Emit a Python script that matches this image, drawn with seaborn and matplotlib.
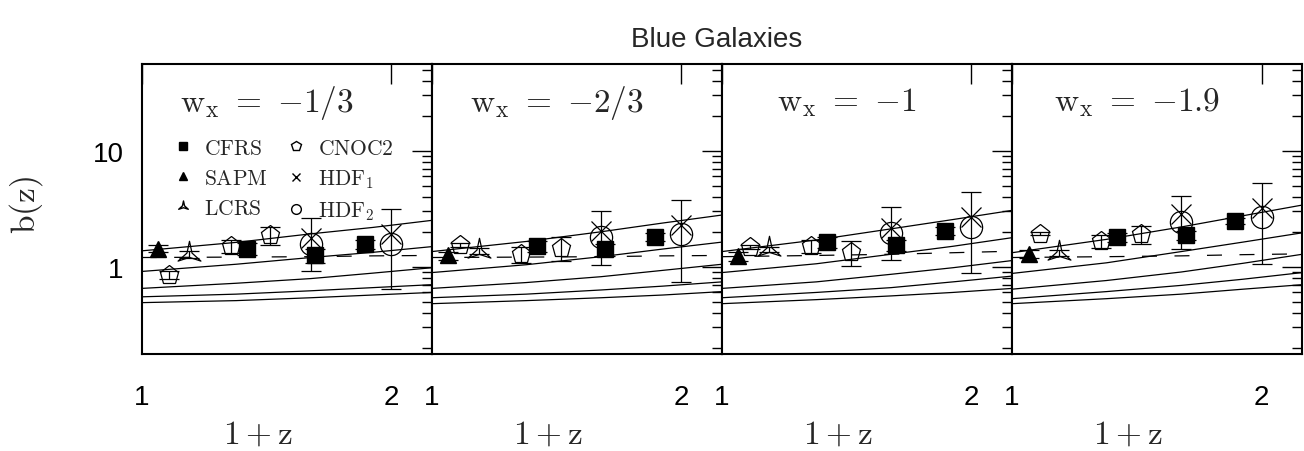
import numpy as np
import pandas as pd
import matplotlib
matplotlib.use("Agg")
import matplotlib.pyplot as plt
import seaborn as sns
from matplotlib.path import Path
from matplotlib.lines import Line2D
from matplotlib.ticker import FixedLocator, NullFormatter, NullLocator

# ---------------- data ----------------
panel_labels = ["1/3", "2/3", "1", "1.9"]

x_cfrs = [1.34, 1.62, 1.86]
x_sapm = [1.047]
x_lcrs = [1.14]
x_cnoc = [1.08, 1.28, 1.43]
x_hdf = [1.60, 2.00]

b_cfrs = [[1.43, 1.25, 1.56], [1.50, 1.41, 1.81], [1.63, 1.53, 2.03], [1.80, 1.87, 2.47]]
b_sapm = [[1.43], [1.25], [1.23], [1.29]]
b_lcrs = [[1.28], [1.36], [1.41], [1.32]]
b_cnoc = [[0.85, 1.50, 1.87], [1.53, 1.28, 1.46], [1.48, 1.50, 1.34], [1.92, 1.66, 1.90]]
b_hdf1 = [[1.78, 1.90], [2.03, 2.31], [2.17, 2.68], [2.82, 3.18]]
b_hdf2 = [[1.58, 1.58], [1.80, 1.92], [1.96, 2.19], [2.44, 2.68]]
hdf_lo = [[0.92, 0.64], [1.03, 0.74], [1.14, 0.89], [1.41, 1.06]]
hdf_hi = [[2.64, 3.12], [3.01, 3.73], [3.29, 4.40], [4.06, 5.30]]

err_cfrs = [0.17, 0.17, 0.15]
err_sapm = [0.10]
err_lcrs = [0.08]
err_cnoc = [0.06, 0.20, 0.33]

model_x = [1.0, 1.3, 1.6, 1.9, 2.24]
curves = [
    [[1.37, 1.62, 1.92, 2.18, 2.51], [0.91, 1.05, 1.20, 1.33, 1.49], [0.65, 0.72, 0.79, 0.88, 0.98],
     [0.55, 0.58, 0.62, 0.66, 0.70], [0.49, 0.51, 0.54, 0.57, 0.60]],
    [[1.35, 1.65, 2.00, 2.38, 2.79], [0.89, 1.04, 1.22, 1.42, 1.63], [0.65, 0.73, 0.82, 0.93, 1.05],
     [0.54, 0.58, 0.63, 0.68, 0.74], [0.48, 0.51, 0.54, 0.57, 0.61]],
    [[1.35, 1.70, 2.12, 2.55, 3.06], [0.89, 1.06, 1.28, 1.50, 1.78], [0.65, 0.74, 0.86, 0.98, 1.13],
     [0.54, 0.60, 0.66, 0.74, 0.83], [0.48, 0.52, 0.56, 0.60, 0.65]],
    [[1.32, 1.72, 2.20, 2.75, 3.40], [0.875, 1.08, 1.35, 1.63, 1.96], [0.64, 0.76, 0.90, 1.07, 1.28],
     [0.53, 0.61, 0.69, 0.78, 0.89], [0.48, 0.53, 0.58, 0.64, 0.70]],
]
dashed = [
    [1.20, 1.21, 1.22, 1.24, 1.25],
    [1.20, 1.21, 1.22, 1.24, 1.25],
    [1.22, 1.25, 1.28, 1.32, 1.36],
    [1.20, 1.22, 1.24, 1.27, 1.29],
]

# ---------------- style ----------------
sns.set_theme(style="white")
plt.rcParams["font.family"] = ["Liberation Sans", "DejaVu Sans"]
plt.rcParams["mathtext.fontset"] = "cm"
plt.rcParams["axes.linewidth"] = 1.5
plt.rcParams["axes.edgecolor"] = "black"

star_path = Path(
    [(np.cos(np.radians(a)) * r, np.sin(np.radians(a)) * r)
     for a, r in [(90, 1), (30, 0.22), (-30, 1), (-90, 0.22), (210, 1), (150, 0.22), (90, 1)]],
    closed=True)

fig = plt.figure(figsize=(13.04, 4.52), dpi=100)
W, H = 1304.0, 452.0
left0, top0, pw, ph = 141.7, 64.7, 290.1, 290.0

ylo, yhi = 10 ** -0.75, 10 ** 1.75
xlo, xhi = 1.0, 10 ** 0.35

minor_y = [k * 10.0 ** e for e in (-1, 0, 1) for k in range(2, 10)]

for i in range(4):
    ax = fig.add_axes([(left0 + i * pw) / W, (H - top0 - ph) / H, pw / W, ph / H])
    ax.set_xscale("log")
    ax.set_yscale("log")
    ax.set_xlim(xlo, xhi)
    ax.set_ylim(ylo, yhi)

    # model curves
    for c in curves[i]:
        df = pd.DataFrame({"x": model_x, "b": c})
        sns.lineplot(data=df, x="x", y="b", ax=ax, color="black", lw=0.9,
                     estimator=None, sort=False)
    dfd = pd.DataFrame({"x": model_x, "b": dashed[i]})
    sns.lineplot(data=dfd, x="x", y="b", ax=ax, color="black", lw=0.9,
                 estimator=None, sort=False, dashes=False, linestyle=(0, (12, 14)))

    ekw = dict(ecolor="black", elinewidth=0.9, capsize=7, capthick=0.9, mec="black",
               linestyle="none")
    ax.errorbar(x_cfrs, b_cfrs[i], yerr=err_cfrs, marker="s", ms=11, mfc="black", **ekw)
    ax.errorbar(x_sapm, b_sapm[i], yerr=err_sapm, marker="^", ms=12, mfc="black", **ekw)
    ax.errorbar(x_lcrs, b_lcrs[i], yerr=err_lcrs, marker=star_path, ms=19, mfc="none",
                mew=0.9, **ekw)
    ax.errorbar(x_cnoc, b_cnoc[i], yerr=err_cnoc, marker="p", ms=14, mfc="none",
                mew=0.9, **ekw)
    lo = np.array(b_hdf1[i]) - np.array(hdf_lo[i])
    hi = np.array(hdf_hi[i]) - np.array(b_hdf1[i])
    ax.errorbar(x_hdf, b_hdf1[i], yerr=[lo, hi], marker="x", ms=15, mew=0.9, **ekw)
    ax.errorbar(x_hdf, b_hdf2[i], marker="o", ms=16, mfc="none", mew=0.9, **ekw)

    # ticks
    ax.set_yticks([1, 10])
    ax.yaxis.set_minor_locator(FixedLocator(minor_y))
    ax.yaxis.set_minor_formatter(NullFormatter())
    ax.set_xticks([1, 2])
    ax.xaxis.set_minor_locator(NullLocator())
    ax.set_xticklabels(["1", "2"])
    if i == 0:
        ax.set_yticklabels(["1", "10"])
    else:
        ax.set_yticklabels(["", ""])
    ax.tick_params(axis="both", which="both", direction="in", top=True, right=True,
                   colors="black", width=1.0, labelsize=20)
    ax.tick_params(axis="both", which="major", length=14.4)
    ax.tick_params(axis="both", which="minor", length=7.2)
    ax.tick_params(axis="x", which="major", pad=22)
    ax.tick_params(axis="y", which="major", pad=13)
    ax.set_xlabel("")
    ax.set_ylabel("")
    for s in ax.spines.values():
        s.set_linewidth(1.5)
        s.set_color("black")

    ax.text(0.43, 0.868, r"$\mathrm{w_x\ =\ {-}" + panel_labels[i] + r"}$",
            transform=ax.transAxes, ha="center", va="center", fontsize=24)
    ax.text(0.40, -0.277, r"$\mathrm{1+z}$", transform=ax.transAxes, ha="center",
            va="center", fontsize=24)

    if i == 0:
        handles = [
            Line2D([], [], ls="none", marker="s", ms=6, mfc="black", mec="black"),
            Line2D([], [], ls="none", marker="^", ms=6, mfc="black", mec="black"),
            Line2D([], [], ls="none", marker=star_path, ms=8, mfc="none", mec="black"),
            Line2D([], [], ls="none", marker="p", ms=7, mfc="none", mec="black"),
            Line2D([], [], ls="none", marker="x", ms=6, mec="black"),
            Line2D([], [], ls="none", marker="o", ms=7, mfc="none", mec="black"),
        ]
        labels = [r"$\mathrm{CFRS}$", r"$\mathrm{SAPM}$", r"$\mathrm{LCRS}$",
                  r"$\mathrm{CNOC2}$", r"$\mathrm{HDF_1}$", r"$\mathrm{HDF_2}$"]
        ax.legend(handles, labels, ncol=2, loc="upper left", bbox_to_anchor=(0.105, 0.745),
                  borderaxespad=0, borderpad=0, handlelength=1.0, handletextpad=0.5,
                  columnspacing=0.8, labelspacing=0.42, fontsize=15.5, frameon=False)

fig.text(26.5 / W, 1 - 205 / H, r"$\mathrm{b(z)}$", rotation=90, ha="center", va="center",
         fontsize=24)
fig.text(717 / W, 1 - 47 / H, "Blue Galaxies", ha="center", va="baseline", fontsize=20)

fig.savefig("out.png", dpi=100)
